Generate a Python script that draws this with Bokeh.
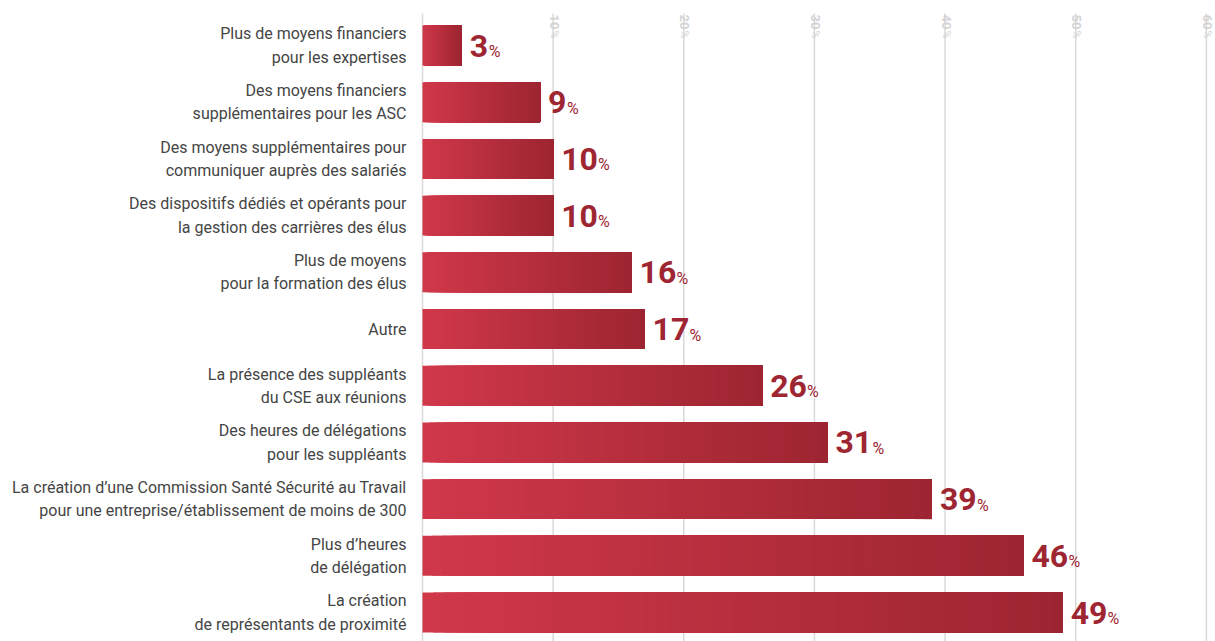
import numpy as np
from bokeh.plotting import figure
from bokeh.models import Range1d, ColumnDataSource
from bokeh.core.properties import value
from bokeh.embed import file_html
from bokeh.resources import INLINE

categories = [
    "Plus de moyens financiers\npour les expertises",
    "Des moyens financiers\nsupplémentaires pour les ASC",
    "Des moyens supplémentaires pour\ncommuniquer auprès des salariés",
    "Des dispositifs dédiés et opérants pour\nla gestion des carrières des élus",
    "Plus de moyens\npour la formation des élus",
    "Autre",
    "La présence des suppléants\ndu CSE aux réunions",
    "Des heures de délégations\npour les suppléants",
    "La création d’une Commission Santé Sécurité au Travail\npour une entreprise/établissement de moins de 300",
    "Plus d’heures\nde délégation",
    "La création\nde représentants de proximité",
]
values = [3, 9, 10, 10, 16, 17, 26, 31, 39, 46, 49]
tick_values = [0, 10, 20, 30, 40, 50, 60]
tick_labels = ["", "10", "20", "30", "40", "50", "60"]

BAR_LEFT = (208, 56, 74)
BAR_RIGHT = (157, 37, 49)
VALUE_COLOR = "#9e2632"

p = figure(width=1215, height=641, output_backend="svg", toolbar_location=None,
           x_range=Range1d(-32.3, 60.7), y_range=Range1d(10.511, -0.794),
           x_axis_type=None, y_axis_type=None, min_border=0,
           outline_line_color=None, background_fill_color="white",
           border_fill_color="white")
p.xgrid.visible = False
p.ygrid.visible = False

ys = list(range(len(categories)))
grid_top = -0.564

# grid lines
p.segment(x0=tick_values, x1=tick_values, y0=[grid_top] * len(tick_values),
          y1=[11.5] * len(tick_values), line_color="#d9d9d9", line_width=1.5)

# tick labels (rotated)
tk_x = [t for t, l in zip(tick_values, tick_labels) if l]
tk_l = [l for l in tick_labels if l]
p.text(x=tk_x, y=[grid_top] * len(tk_x), text=tk_l, angle=-np.pi / 2,
       text_align="left", text_baseline="middle", x_offset=1, y_offset=1,
       text_font=value("Roboto"), text_font_style="bold", text_font_size="13px",
       text_color="#d4d4d4")
p.text(x=tk_x, y=[grid_top] * len(tk_x), text=["%"] * len(tk_x), angle=-np.pi / 2,
       text_align="left", text_baseline="middle", x_offset=1, y_offset=17,
       text_font=value("Roboto"), text_font_size="11px", text_color="#d4d4d4")

# gradient bars
N = 60
lefts, rights, yy, cols = [], [], [], []
for y, v in zip(ys, values):
    for k in range(N):
        f = k / N
        c = tuple(int(round(a + (b - a) * (f + 0.5 / N))) for a, b in zip(BAR_LEFT, BAR_RIGHT))
        lefts.append(v * f)
        rights.append(v)
        yy.append(y)
        cols.append("#%02x%02x%02x" % c)
p.hbar(y=yy, left=lefts, right=rights, height=0.705, fill_color=cols, line_color=None)

# category labels
p.text(x=[0] * len(ys), y=ys, text=categories, text_align="right", text_baseline="middle",
       x_offset=-16, text_font=value("Roboto"), text_font_size="16px",
       text_color="#454545", text_line_height=1.23)

# value labels
num_fs = 32
vlabels = [str(v) for v in values]
p.text(x=values, y=ys, text=vlabels, text_align="left", text_baseline="alphabetic",
       x_offset=8, y_offset=0, text_font=value("Roboto"), text_font_style="bold",
       text_font_size=f"{num_fs}px", text_color=VALUE_COLOR)
pct_off = [8 + len(s) * 0.5615 * num_fs + 1 for s in vlabels]
src = ColumnDataSource(dict(x=values, y=ys, off=pct_off, t=["%"] * len(ys)))
p.text(x="x", y="y", text="t", source=src, text_align="left", text_baseline="alphabetic",
       x_offset="off", y_offset=6, text_font=value("Roboto"),
       text_font_size="16px", text_color=VALUE_COLOR)

open("out.html", "w").write(file_html(p, INLINE))
